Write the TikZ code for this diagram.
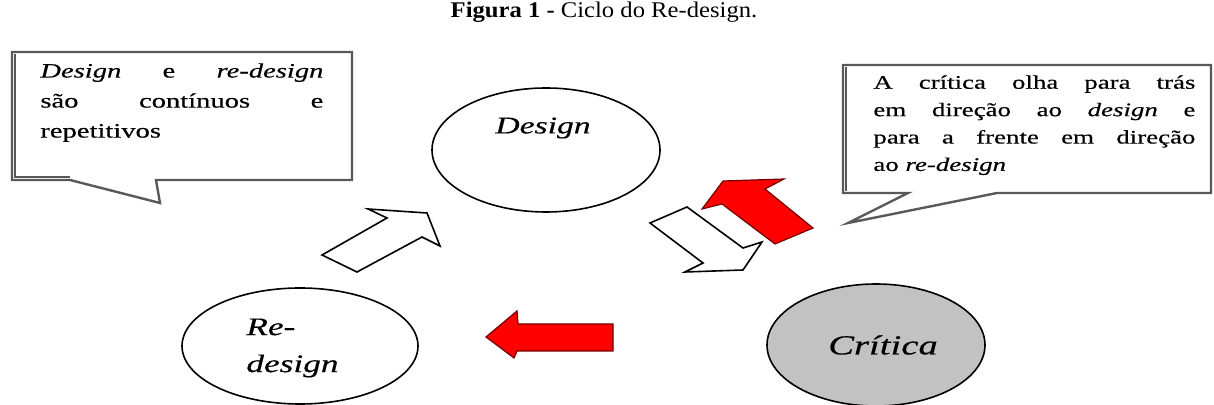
\documentclass[tikz,border=0pt]{standalone}
\usepackage{fontspec}
\setmainfont{Liberation Serif}
\newfontfamily\figfont{Liberation Serif}[FakeStretch=1.4, FakeBold=0.4]
\newfontfamily\titlefont{Liberation Serif}[FakeStretch=1.1]
\usepackage{tikz}
\usetikzlibrary{shapes.geometric}

\begin{document}
\begin{tikzpicture}[
  x=0.5pt, y=-0.5pt,
  phase/.style={draw, ellipse, line width=0.8pt, inner sep=0pt},
  phasetext/.style={font=\figfont\fontsize{#1}{18.5}\selectfont\itshape, inner sep=0pt},
  callout/.style={draw=black!65, line width=1.2pt, fill=white, line join=miter},
  notetext/.style={inner sep=0pt, align=justify, anchor=north west},
  hollow/.style={draw, fill=white, line width=0.8pt, line join=miter},
  hot/.style={draw=red!45!black, fill=red, line width=0.6pt, line join=miter}
]
  \useasboundingbox (0,0) rectangle (1214,405);
  \node[font=\titlefont\fontsize{11.2}{13}\selectfont] (title) at (604,12)
    {\textbf{Figura 1 -} Ciclo do Re-design.};

  \draw[callout] (12,52) -- (352,52) -- (352,180) -- (156,180) -- (160,203)
    -- (70,180) -- (12,180) -- cycle;
  \draw[draw=black!65, line width=1.2pt] (15,54) -- (15,177) -- (70,177);
  \node[notetext, text width=141.5pt, font=\figfont\fontsize{10.2}{15}\selectfont] (nl) at (40,63)
    {\textit{Design} e \textit{re-design}\linebreak são contínuos e\linebreak repetitivos};

  \draw[callout] (843,65) -- (1211,65) -- (1211,193) -- (997,193) -- (848,223)
    -- (908,193) -- (843,193) -- cycle;
  \draw[draw=black!65, line width=1.2pt] (846,67) -- (846,191);
  \node[notetext, text width=161pt, font=\figfont\fontsize{9.6}{13.7}\selectfont] (nr) at (873,75)
    {A crítica olha para trás\linebreak em direção ao \textit{design} e\linebreak
     para a frente em direção\linebreak ao \textit{re-design}};

  \node[phase, minimum width=114pt, minimum height=62pt] (D) at (546,150) {};
  \node[phasetext=12] (Dt) at (543,128) {Design};

  \node[phase, minimum width=118pt, minimum height=58pt] (R) at (300,346) {};
  \node[phasetext=12.6, anchor=west, align=left] (Rt) at (246,348) {Re-\\design};

  \node[phase, fill=black!24, minimum width=109pt, minimum height=61pt] (C) at (876,345) {};
  \node[phasetext=13.8] (Ct) at (883,345) {Crítica};

  \draw[hollow] (322,255) -- (387,218) -- (368,209) -- (427,213) -- (440,246)
    -- (422,237) -- (357,272) -- cycle;
  \draw[hollow] (650,223) -- (687,207) -- (743,248) -- (762,242) -- (743,270)
    -- (685,272) -- (703,263) -- cycle;
  \draw[hot] (702,209) -- (723,181) -- (784,179) -- (765,189) -- (813,228)
    -- (775,244) -- (722,204) -- cycle;
  \draw[hot] (486,337) -- (517,311) -- (518,324) -- (613,324) -- (613,351)
    -- (517,351) -- (514,358) -- cycle;
\end{tikzpicture}
\end{document}
